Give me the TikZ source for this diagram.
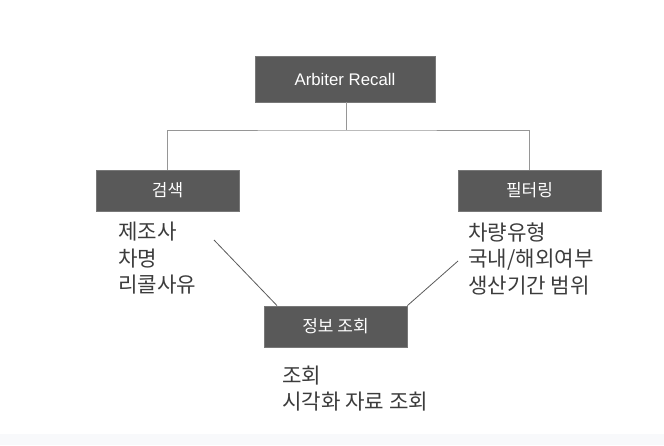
\documentclass[tikz,border=0pt]{standalone}
\usepackage{fontspec}
\setmainfont{Liberation Sans}
\newfontfamily\kr{Noto Sans CJK KR}
\definecolor{boxfill}{RGB}{89,89,89}
\definecolor{boxline}{RGB}{120,120,120}
\definecolor{treeline}{RGB}{150,150,150}
\definecolor{diagline}{RGB}{90,90,90}
\definecolor{listtext}{RGB}{60,60,60}
\definecolor{band}{RGB}{248,249,251}
\tikzset{
  box/.style={draw=boxline, line width=0.8pt, fill=boxfill, text=white, minimum width=143pt, minimum height=41pt, inner sep=0pt, font=\fontsize{17}{20}\selectfont\kr},
  listnode/.style={anchor=west, inner sep=0pt, align=left, text=listtext, font=\fontsize{21.2}{26.5}\selectfont\kr},
  tree/.style={draw=treeline, line width=0.9pt},
  diag/.style={draw=diagline, line width=0.8pt}
}
\begin{document}
\begin{tikzpicture}[x=1pt,y=-1pt]
\useasboundingbox (0,0) rectangle (664,445);
\fill[band] (0,434) rectangle (664,445);
\node[box, minimum width=180pt, minimum height=46pt, font=\fontsize{16.8}{20}\selectfont] (root) at (345,79) {Arbiter Recall};
\node[box] (search) at (167.5,190.5) {검색};
\node[box] (filter) at (529.5,190.5) {필터링};
\node[box] (info) at (335.5,326.5) {정보 조회};
\node[listnode] (slist) at (118,258.5) {제조사\\차명\\리콜사유};
\node[listnode] (flist) at (468,258.5) {차량유형\\국내/해외여부\\생산기간 범위};
\node[listnode] (ilist) at (282,388.5) {조회\\시각화 자료 조회};
\coordinate (bar) at (346,130);
\draw[tree] (root.south -| bar) -- (bar);
\draw[tree] (search.north) |- (bar) -| (filter.north);
\coordinate (sfrom) at (214,240);
\coordinate (ffrom) at (458,261);
\draw[diag] (sfrom) -- (info.north west -| 277,0);
\draw[diag] (ffrom) -- (info.north east);
\end{tikzpicture}
\end{document}
